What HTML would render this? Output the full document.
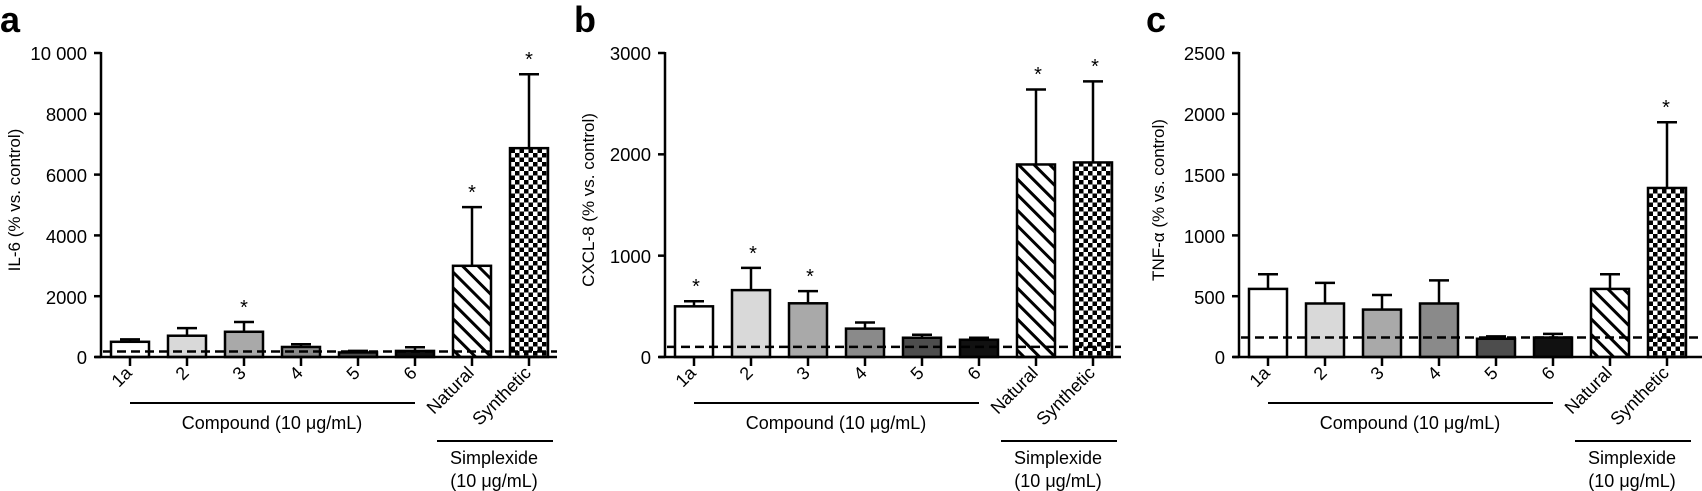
<!DOCTYPE html>
<html><head><meta charset="utf-8"><style>
html,body{margin:0;padding:0;background:#fff;}
svg{display:block;font-family:"Liberation Sans",Arial,sans-serif;}
</style></head><body>
<svg id="s" width="1702" height="491" viewBox="0 0 1702 491" xmlns="http://www.w3.org/2000/svg">
<defs>
<pattern id="str" patternUnits="userSpaceOnUse" width="11" height="11" patternTransform="rotate(-45)">
<rect width="11" height="11" fill="#fff"/><rect x="0" y="0" width="3" height="11" fill="#000"/>
</pattern>
<pattern id="chk" patternUnits="userSpaceOnUse" width="9" height="9">
<rect width="9" height="9" fill="#fff"/><rect x="0" y="0" width="4.5" height="4.5" fill="#000"/><rect x="4.5" y="4.5" width="4.5" height="4.5" fill="#000"/>
</pattern>
</defs>
<g font-size="18.5" fill="#000">
<text x="0" y="32" font-size="36" font-weight="bold">a</text>
<text transform="translate(20,200) rotate(-90)" text-anchor="middle" font-size="17">IL-6 (% vs. control)</text>
<g text-anchor="end">
<text x="87" y="60">10 000</text><text x="87" y="121">8000</text><text x="87" y="182">6000</text><text x="87" y="243">4000</text><text x="87" y="304">2000</text><text x="87" y="364">0</text>
</g>
<text x="574" y="32" font-size="36" font-weight="bold">b</text>
<text transform="translate(594,200) rotate(-90)" text-anchor="middle" font-size="17">CXCL-8 (% vs. control)</text>
<g text-anchor="end">
<text x="651" y="60">3000</text><text x="651" y="161">2000</text><text x="651" y="263">1000</text><text x="651" y="364">0</text>
</g>
<text x="1146" y="32" font-size="36" font-weight="bold">c</text>
<text transform="translate(1164,200) rotate(-90)" text-anchor="middle" font-size="17">TNF-α (% vs. control)</text>
<g text-anchor="end">
<text x="1225" y="60">2500</text><text x="1225" y="121">2000</text><text x="1225" y="182">1500</text><text x="1225" y="243">1000</text><text x="1225" y="304">500</text><text x="1225" y="364">0</text>
</g>
</g>
<g id="p1" transform="translate(101,0)" font-size="18" text-anchor="end">
<text transform="translate(32,374) rotate(-45)">1a</text>
<text transform="translate(89,374) rotate(-45)">2</text>
<text transform="translate(146,374) rotate(-45)">3</text>
<text transform="translate(203,374) rotate(-45)">4</text>
<text transform="translate(260,374) rotate(-45)">5</text>
<text transform="translate(317,374) rotate(-45)">6</text>
<text transform="translate(374,374) rotate(-45)">Natural</text>
<text transform="translate(431,374) rotate(-45)">Synthetic</text>
<text x="171" y="429" text-anchor="middle">Compound (10 μg/mL)</text>
<text x="393" y="464" text-anchor="middle">Simplexide</text>
<text x="393" y="487" text-anchor="middle">(10 μg/mL)</text>
</g>
<g id="p2" transform="translate(665,0)" font-size="18" text-anchor="end">
<text transform="translate(32,374) rotate(-45)">1a</text>
<text transform="translate(89,374) rotate(-45)">2</text>
<text transform="translate(146,374) rotate(-45)">3</text>
<text transform="translate(203,374) rotate(-45)">4</text>
<text transform="translate(260,374) rotate(-45)">5</text>
<text transform="translate(317,374) rotate(-45)">6</text>
<text transform="translate(374,374) rotate(-45)">Natural</text>
<text transform="translate(431,374) rotate(-45)">Synthetic</text>
<text x="171" y="429" text-anchor="middle">Compound (10 μg/mL)</text>
<text x="393" y="464" text-anchor="middle">Simplexide</text>
<text x="393" y="487" text-anchor="middle">(10 μg/mL)</text>
</g>
<g id="p3" transform="translate(1239,0)" font-size="18" text-anchor="end">
<text transform="translate(32,374) rotate(-45)">1a</text>
<text transform="translate(89,374) rotate(-45)">2</text>
<text transform="translate(146,374) rotate(-45)">3</text>
<text transform="translate(203,374) rotate(-45)">4</text>
<text transform="translate(260,374) rotate(-45)">5</text>
<text transform="translate(317,374) rotate(-45)">6</text>
<text transform="translate(374,374) rotate(-45)">Natural</text>
<text transform="translate(431,374) rotate(-45)">Synthetic</text>
<text x="171" y="429" text-anchor="middle">Compound (10 μg/mL)</text>
<text x="393" y="464" text-anchor="middle">Simplexide</text>
<text x="393" y="487" text-anchor="middle">(10 μg/mL)</text>
</g>
<g font-size="20" text-anchor="middle">
<text x="244" y="314">*</text><text x="472" y="199">*</text><text x="529" y="66">*</text>
<text x="696" y="293">*</text><text x="753" y="260">*</text><text x="810" y="283">*</text><text x="1038" y="81">*</text><text x="1095" y="73">*</text>
<text x="1666" y="114">*</text>
</g>
</svg>
<script>
var NS="http://www.w3.org/2000/svg";
var fills=["#fff","#d9d9d9","#a9a9a9","#8a8a8a","#4d4d4d","#111","url(#str)","url(#chk)"];
var panels=[
 {id:"p1",max:10000,ticks:[0,2000,4000,6000,8000,10000],v:[500,700,830,330,150,200,3000,6870],e:[580,950,1150,420,200,320,4930,9300],d:180,end:456},
 {id:"p2",max:3000,ticks:[0,1000,2000,3000],v:[500,660,530,280,190,170,1900,1920],e:[550,880,650,340,220,190,2640,2720],d:100,end:456},
 {id:"p3",max:2500,ticks:[0,500,1000,1500,2000,2500],v:[560,440,390,440,150,160,560,1390],e:[680,610,510,630,170,190,680,1930],d:160,end:463}
];
function el(g,t,a){var e=document.createElementNS(NS,t);for(var k in a)e.setAttribute(k,a[k]);g.appendChild(e);return e;}
panels.forEach(function(p){
 var g=document.getElementById(p.id);
 var Y=function(v){return 357-v/p.max*304;};
 for(var i=0;i<8;i++){
  var cx=29+57*i, y=Y(p.v[i]), ye=Y(p.e[i]);
  el(g,"line",{x1:cx,x2:cx,y1:y,y2:ye,stroke:"#000","stroke-width":2.5});
  el(g,"line",{x1:cx-10,x2:cx+10,y1:ye,y2:ye,stroke:"#000","stroke-width":2.5});
  el(g,"rect",{x:cx-19,y:y,width:38,height:357-y,fill:fills[i],stroke:"#000","stroke-width":2.5});
  el(g,"line",{x1:cx,x2:cx,y1:357,y2:366,stroke:"#000","stroke-width":2.5});
 }
 el(g,"line",{x1:2,x2:p.end,y1:Y(p.d),y2:Y(p.d),stroke:"#000","stroke-width":2.5,"stroke-dasharray":"9,5"});
 el(g,"line",{x1:0,x2:0,y1:52,y2:358,stroke:"#000","stroke-width":2.5});
 el(g,"line",{x1:-6,x2:p.end,y1:357,y2:357,stroke:"#000","stroke-width":2.5});
 p.ticks.forEach(function(t){el(g,"line",{x1:-7,x2:0,y1:Y(t),y2:Y(t),stroke:"#000","stroke-width":2.5});});
 el(g,"line",{x1:29,x2:314,y1:403,y2:403,stroke:"#000","stroke-width":2});
 el(g,"line",{x1:336,x2:452,y1:441,y2:441,stroke:"#000","stroke-width":2});
});
</script>
</body></html>
